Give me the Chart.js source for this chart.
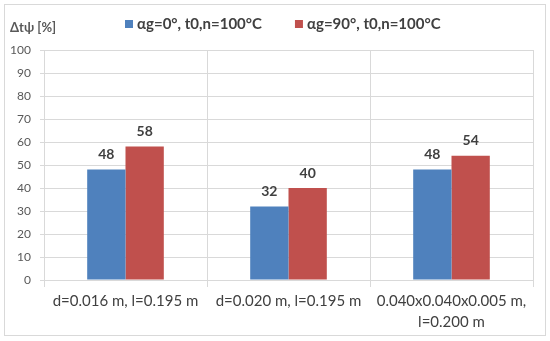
<!DOCTYPE html>
<html><head><meta charset="utf-8">
<script src="https://cdn.jsdelivr.net/npm/chart.js@4"></script>
<style>html,body{margin:0;padding:0;background:#fff}#w{width:550px;height:341px;position:relative}</style>
</head><body><div id="w"><canvas id="c" width="550" height="341"></canvas></div>
<script>
const categories = [["d=0.016 m, l=0.195 m"], ["d=0.020 m, l=0.195 m"], ["0.040x0.040x0.005 m,", "l=0.200 m"]];
const seriesNames = ["αg=0°, t0,n=100°C", "αg=90°, t0,n=100°C"];
const seriesA = [48, 32, 48];
const seriesB = [58, 40, 54];
const yTicks = [0,10,20,30,40,50,60,70,80,90,100];
const yTitle = "Δtψ [%]";
const FONT = "Lato, 'Open Sans', sans-serif";

const extras = {
  id: 'extras',
  beforeDraw(chart) {
    const ctx = chart.ctx;
    ctx.save();
    ctx.fillStyle = '#fff';
    ctx.fillRect(0,0,chart.width,chart.height);
    ctx.strokeStyle = '#d9d9d9';
    ctx.lineWidth = 1;
    ctx.strokeRect(4.5,4.5,541,331);
    ctx.restore();
  },
  afterDatasetsDraw(chart) {
    const ctx = chart.ctx;
    ctx.save();
    // data labels
    ctx.font = "bold 14px " + FONT;
    ctx.fillStyle = '#404040';
    ctx.textAlign = 'center';
    ctx.textBaseline = 'bottom';
    chart.data.datasets.forEach((ds, i) => {
      chart.getDatasetMeta(i).data.forEach((bar, j) => {
        ctx.fillText(String(ds.data[j]), bar.x, bar.y - 8);
      });
    });
    // y title
    ctx.font = "bold 13px " + FONT;
    ctx.fillStyle = '#595959';
    ctx.textAlign = 'left';
    ctx.textBaseline = 'middle';
    ctx.fillText(yTitle, 10, 28);
    // legend
    ctx.font = "bold 15px " + FONT;
    ctx.fillStyle = '#404040';
    let x = 125;
    const y = 24;
    chart.data.datasets.forEach((ds) => {
      ctx.fillStyle = ds.backgroundColor;
      ctx.fillRect(x, y - 4, 8, 8);
      ctx.fillStyle = '#404040';
      ctx.fillText(ds.label, x + 12, y);
      x += 12 + ctx.measureText(ds.label).width + 33;
    });
    ctx.restore();
  }
};

new Chart(document.getElementById('c'), {
  type: 'bar',
  data: {
    labels: categories,
    datasets: [
      { label: seriesNames[0], data: seriesA, backgroundColor: '#4F81BD' },
      { label: seriesNames[1], data: seriesB, backgroundColor: '#C0504D' }
    ]
  },
  options: {
    responsive: false,
    animation: false,
    devicePixelRatio: 1,
    layout: { padding: { left: 0, right: 17, top: 50, bottom: 0 } },
    datasets: { bar: { categoryPercentage: 0.47, barPercentage: 1.0 } },
    plugins: {
      legend: { display: false },
      tooltip: { enabled: false }
    },
    scales: {
      x: {
        grid: { color: '#d9d9d9', offset: true, tickLength: 7, drawOnChartArea: true },
        border: { color: '#d9d9d9' },
        ticks: { color: '#404040', font: { family: FONT, size: 15, lineHeight: 1.45 }, maxRotation: 0, padding: 3 },
        afterFit(s) { s.height = 61; }
      },
      y: {
        min: 0, max: 100,
        afterBuildTicks(s) { s.ticks = yTicks.map(v => ({ value: v })); },
        grid: { color: '#d9d9d9', tickLength: 4 },
        border: { color: '#d9d9d9' },
        ticks: { color: '#595959', font: { family: FONT, size: 12 }, padding: 9 },
        afterFit(s) { s.width = 44; }
      }
    }
  },
  plugins: [extras]
});
</script></body></html>
